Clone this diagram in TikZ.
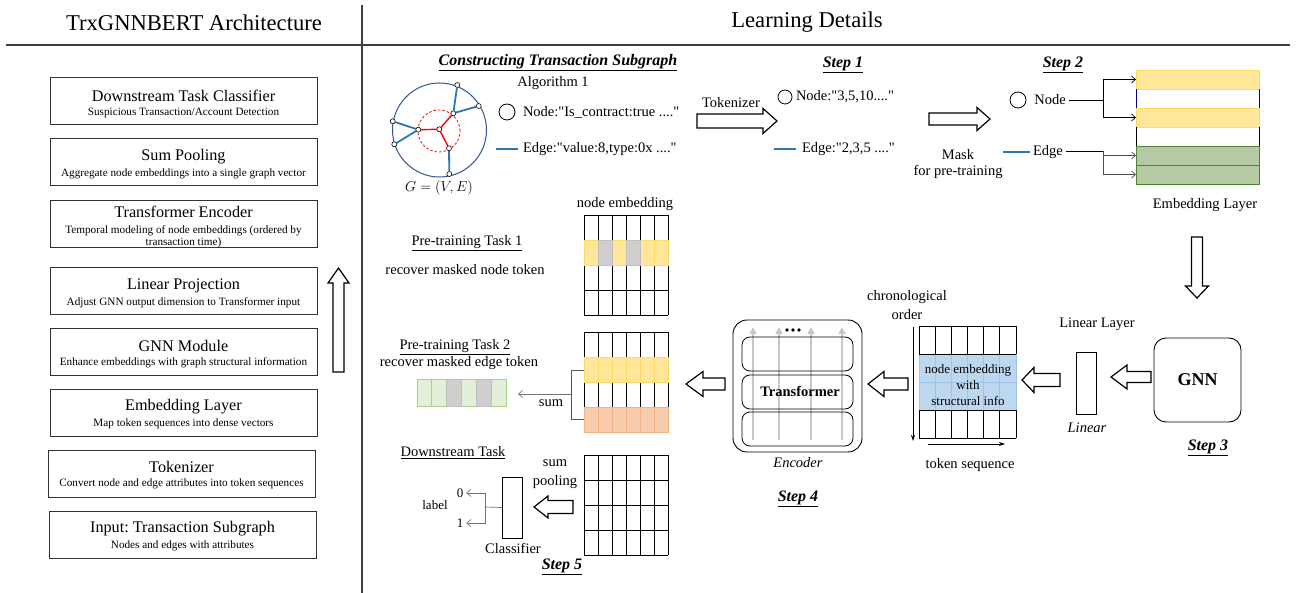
\documentclass[tikz,border=0pt]{standalone}
\usepackage{fontspec}
\setmainfont{Liberation Serif}[Ligatures=TeXOff]
\usetikzlibrary{arrows.meta}
\frenchspacing
\definecolor{eblue}{HTML}{2E75B6}
\definecolor{cblue}{HTML}{2F5597}
\definecolor{yel}{HTML}{FFE699}
\definecolor{yeld}{HTML}{FFD966}
\definecolor{gry}{HTML}{D0CECE}
\definecolor{gryd}{HTML}{BFBFBF}
\definecolor{grn}{HTML}{B5C9A5}
\definecolor{grnd}{HTML}{548235}
\definecolor{lgrn}{HTML}{E2F0D9}
\definecolor{lgrnd}{HTML}{A9D18E}
\definecolor{org}{HTML}{F8CBAD}
\definecolor{orgd}{HTML}{F4B183}
\definecolor{lblue}{HTML}{BDD7EE}
\definecolor{lblued}{HTML}{9DC3E6}
\tikzset{
  pics/barrow/.style n args={4}{code={
    \draw[line width=1.2pt, fill=white, line join=miter]
      (0,-#2) -- ({#1-#4},-#2) -- ({#1-#4},-#3) -- (#1,0) -- ({#1-#4},#3) -- ({#1-#4},#2) -- (0,#2) -- cycle;
  }},
  archbox/.style={draw=black!80, line width=0.9pt, minimum width=267pt, minimum height=47pt},
  ttl/.style={font=\fontsize{16.2}{18}\selectfont},
  sub/.style={font=\fontsize{11.2}{13}\selectfont, align=center},
  txt/.style={font=\fontsize{14.5}{16}\selectfont},
  stxt/.style={font=\fontsize{13}{15}\selectfont},
  stepst/.style={font=\fontsize{16}{18}\selectfont\bfseries\itshape},
  gnode/.style={circle, draw, fill=white, minimum size=5pt, line width=0.6pt},
  bedge/.style={eblue, line width=1.8pt},
  redge/.style={red, line width=1.4pt},
  thinarr/.style={line width=0.7pt, -{Straight Barb[length=4pt,width=7pt]}},
}
\begin{document}
\begin{tikzpicture}[x=1pt,y=-1pt, every node/.style={inner sep=0pt, outer sep=0pt}]
\useasboundingbox (0,0) rectangle (1296,593);
\fill[white] (0,0) rectangle (1296,593);

% frame lines
\draw[black!75, line width=1.2pt] (6,45) -- (1290,45);
\draw[black!75, line width=1.2pt] (362,5) -- (362,593);
\node[font=\fontsize{22.6}{24}\selectfont] (t1) at (194,23) {TrxGNNBERT Architecture};
\node[font=\fontsize{22.6}{24}\selectfont] (t2) at (807,22) {Learning Details};

% ---------- left architecture ----------
\node[archbox] (b1) at (183.5,100.5) {};
\node[ttl] (b1t) at (183.5,96) {Downstream Task Classifier};
\node[sub] (b1s) at (183.5,113) {Suspicious Transaction/Account Detection};
\node[archbox] (b2) at (183.5,161.5) {};
\node[ttl] (b2t) at (183.5,157) {Sum Pooling};
\node[sub] (b2s) at (183.5,174) {Aggregate node embeddings into a single graph vector};
\node[archbox] (b3) at (183.5,223.5) {};
\node[ttl] (b3t) at (183.5,212) {Transformer Encoder};
\node[sub] (b3s) at (183.5,236.5) {Temporal modeling of node embeddings (ordered by\\[-1pt]transaction time)};
\node[archbox] (b4) at (183.5,290.5) {};
\node[ttl] (b4t) at (183.5,286) {Linear Projection};
\node[sub] (b4s) at (183.5,303) {Adjust GNN output dimension to Transformer input};
\node[archbox] (b5) at (183.5,351.5) {};
\node[ttl] (b5t) at (183.5,345.5) {GNN Module};
\node[sub] (b5s) at (183.5,363) {Enhance embeddings with graph structural information};
\node[archbox] (b6) at (183.5,412.5) {};
\node[ttl] (b6t) at (183.5,406.5) {Embedding Layer};
\node[sub] (b6s) at (183.5,423.5) {Map token sequences into dense vectors};
\node[archbox] (b7) at (181.5,473.5) {};
\node[ttl] (b7t) at (181.5,466.5) {Tokenizer};
\node[sub] (b7s) at (181.5,483.5) {Convert node and edge attributes into token sequences};
\node[archbox] (b8) at (182.5,534.5) {};
\node[ttl] (b8t) at (182.5,529) {Input: Transaction Subgraph};
\node[sub] (b8s) at (182.5,546) {Nodes and edges with attributes};
\pic[rotate=90] at (338.5,372) {barrow={104}{5.5}{10.5}{15}};

% ---------- constructing subgraph ----------
\draw[cblue, line width=1pt] (439.5,130) circle[radius=47pt];
\draw[red, dashed, dash pattern=on 2.5pt off 2pt, line width=0.8pt] (439,131) circle[radius=21pt];
\node[gnode] (g1) at (457.3,85) {};
\node[gnode] (g2) at (478.7,106) {};
\node[gnode] (g3) at (453.3,113.3) {};
\node[gnode] (g4) at (392.7,121.3) {};
\node[gnode] (g5) at (418.3,129.7) {};
\node[gnode] (g6) at (439.3,129.3) {};
\node[gnode] (g7) at (394.3,144.3) {};
\node[gnode] (g8) at (449,148.3) {};
\node[gnode] (g9) at (449.3,174) {};
\draw[bedge] (g1) -- (g3);
\draw[bedge] (g2) -- (g3);
\draw[bedge] (g4) -- (g5);
\draw[bedge] (g7) -- (g5);
\draw[bedge] (g8) -- (g9);
\draw[redge] (g5) -- (g6);
\draw[redge] (g6) -- (g3);
\draw[redge] (g6) -- (g8);
\node[txt] (gl) at (439,188) {$G=(V,E)$};

\node[stepst] (ct) at (558,63) {\underline{Constructing Transaction Subgraph}};
\node[txt] (alg) at (553,83) {Algorithm 1};
\node[circle, draw, minimum size=16pt, line width=0.8pt] (ns1) at (507,112) {};
\node[txt, anchor=west] (nt1) at (523,112) {Node:"Is\_contract:true ...."};
\draw[eblue, line width=2pt] (496,149) -- (518,149);
\node[txt, anchor=west] (et1) at (523,149) {Edge:"value:8,type:0x ...."};

% ---------- step 1 ----------
\node[txt] (tok) at (731,103) {Tokenizer};
\pic at (697,121) {barrow={80}{7}{12.5}{14}};
\node[stepst] (st1) at (843,65) {\underline{Step 1}};
\node[circle, draw, minimum size=14pt, line width=0.8pt] (ns2) at (785,97) {};
\node[txt, anchor=west] (nt2) at (796,97) {Node:"3,5,10...."};
\draw[eblue, line width=2pt] (774,149) -- (796,149);
\node[txt, anchor=west] (et2) at (802,149) {Edge:"2,3,5 ...."};

% ---------- step 2 ----------
\pic at (929,119) {barrow={61}{6}{11.5}{13}};
\node[txt] (mask) at (958,155) {Mask};
\node[txt] (mask2) at (958,172) {for pre-training};
\node[stepst] (st2) at (1063,65) {\underline{Step 2}};
\node[circle, draw, minimum size=16pt, line width=0.8pt] (ns3) at (1018,100) {};
\node[txt] (s2node) at (1050,100) {Node};
\draw[eblue, line width=2pt] (1003,152) -- (1030,152);
\node[txt] (s2edge) at (1048,152) {Edge};

\node[draw=yeld, fill=yel, minimum width=123pt, minimum height=19pt, anchor=north west] (e1) at (1136,70) {};
\node[minimum width=123pt, minimum height=19pt, anchor=north west] (e2) at (1136,89) {};
\draw[blue!60!black, line width=0.7pt] (e2.north west) -- (e2.south west) (e2.north east) -- (e2.south east);
\node[draw=yeld, fill=yel, minimum width=123pt, minimum height=19pt, anchor=north west] (e3) at (1136,108) {};
\node[minimum width=123pt, minimum height=19pt, anchor=north west] (e4) at (1136,127) {};
\draw[black, line width=0.7pt] (e4.north west) -- (e4.south west) (e4.north east) -- (e4.south east);
\node[draw=grnd, fill=grn, minimum width=123pt, minimum height=19pt, anchor=north west, line width=0.7pt] (e5) at (1136,146) {};
\node[draw=grnd, fill=grn, minimum width=123pt, minimum height=19pt, anchor=north west, line width=0.7pt] (e6) at (1136,165) {};
\node[txt] (embl) at (1205,205) {Embedding Layer};
\coordinate (nj) at (1103,100);
\draw[line width=0.7pt, shorten <=3pt] (s2node.east) -- (nj);
\draw[thinarr] (nj) |- (e1.west);
\draw[thinarr] (nj) |- (e3.west);
\coordinate (ej) at (1103,151);
\draw[line width=0.7pt, shorten <=3pt] (s2edge.east |- ej) -- (ej);
\draw[thinarr, black!70] (ej) |- (e5.west);
\draw[thinarr, black!70] (ej) |- (e6.west);

% ---------- step 3 ----------
\pic[rotate=-90] at (1197,237) {barrow={61}{5.5}{11.5}{12}};
\node[draw, rounded corners=12pt, minimum width=87pt, minimum height=84pt, line width=0.9pt, font=\fontsize{18}{20}\selectfont\bfseries] (gnn) at (1197.5,380) {GNN};
\node[txt] (linl) at (1097,324) {Linear Layer};
\node[draw, minimum width=20pt, minimum height=62pt, line width=0.8pt] (lin) at (1086,383) {};
\node[txt, font=\fontsize{14.5}{16}\selectfont\itshape] (lint) at (1087,428) {Linear};
\node[stepst] (st3) at (1208,448) {\underline{Step 3}};
\pic[rotate=180] at (1151,377) {barrow={40}{5.5}{12}{16}};
\pic[rotate=180] at (1060,380) {barrow={38}{6.5}{12.5}{12}};

% token grid
\fill[lblue] (919,354) rectangle (1016,410);
\foreach \i in {0,...,6} {
  \draw[line width=0.8pt] ({919+\i*16.1667},326) -- ({919+\i*16.1667},354);
  \draw[line width=0.8pt] ({919+\i*16.1667},410) -- ({919+\i*16.1667},438);
  \draw[lblued, line width=0.8pt] ({919+\i*16.1667},354) -- ({919+\i*16.1667},410);
}
\draw[lblued, line width=0.8pt] (919,382) -- (1016,382);
\draw[line width=0.8pt] (919,326) -- (1016,326) (919,354) -- (1016,354) (919,410) -- (1016,410) (919,438) -- (1016,438);
\node[stxt] (tg1) at (968,370) {node embedding};
\node[stxt] (tg2) at (968,385.5) {with};
\node[stxt] (tg3) at (968,401) {structural info};
\draw[line width=0.8pt, -{Stealth[length=6pt,width=4pt]}] (913,327) -- (913,441);
\draw[line width=0.8pt, -{Stealth[length=6pt,width=4pt]}] (928,444) -- (1005,444);
\node[txt] (chr) at (907,297) {chronological};
\node[txt] (ord) at (907,315) {order};
\node[txt] (tseq) at (970,465) {token sequence};

% ---------- step 4 ----------
\foreach \x in {753,779,811,842}
  \draw[black!22, line width=2pt, -{Triangle[length=7pt,width=7pt]}] (\x,440) -- (\x,327);
\node[draw, rounded corners=14pt, minimum width=129pt, minimum height=132pt, line width=0.9pt] (enc) at (797.5,386) {};
\node[draw, rounded corners=8pt, minimum width=111pt, minimum height=34pt, line width=0.8pt] (encA) at (797.5,354) {};
\node[draw, rounded corners=8pt, minimum width=111pt, minimum height=34pt, line width=0.8pt] (encB) at (797.5,392) {};
\node[draw, rounded corners=8pt, minimum width=111pt, minimum height=34pt, line width=0.8pt] (encC) at (797.5,429) {};
\node[font=\fontsize{14.5}{16}\selectfont\bfseries] (trf) at (800,391) {Transformer};
\foreach \x in {787,793,799} \fill (\x,330) circle[radius=1.8pt];
\node[txt, font=\fontsize{14.5}{16}\selectfont\itshape] (encl) at (798,463) {Encoder};
\node[stepst] (st4) at (798,499) {\underline{Step 4}};
\pic[rotate=180] at (908,384) {barrow={40}{6}{12.5}{16}};
\pic[rotate=180] at (725,384) {barrow={39}{6}{12.5}{17}};

% ---------- pre-training grids ----------
\foreach \yy in {215,332,455} {
  \foreach \i in {0,...,6} \draw[line width=0.9pt] ({584+14*\i},\yy) -- ({584+14*\i},{\yy+100});
  \foreach \j in {0,...,4} \draw[line width=0.9pt] (584,{\yy+25*\j}) -- (668,{\yy+25*\j});
}
\foreach \i in {0,...,5} \draw[yeld, fill=yel, line width=0.8pt] ({584+14*\i},240) rectangle ++(14,25);
\draw[gryd, fill=gry, line width=0.8pt] (598,240) rectangle ++(14,25);
\draw[gryd, fill=gry, line width=0.8pt] (626,240) rectangle ++(14,25);
\foreach \i in {0,...,5} \draw[yeld, fill=yel, line width=0.8pt] ({584+14*\i},357) rectangle ++(14,25);
\foreach \i in {0,...,5} \draw[orgd, fill=org, line width=0.8pt] ({584+14*\i},407) rectangle ++(14,25);
\node[txt] (nel) at (625,204) {node embedding};
\node[txt] (pt1) at (467,243) {\underline{Pre-training Task 1}};
\node[txt] (pt1b) at (465,270) {recover masked node token};
\node[txt] (pt2) at (455,347) {\underline{Pre-training Task 2}};
\node[txt] (pt2b) at (459,363) {recover masked edge token};

% green bar
\foreach \i in {0,...,5} \draw[lgrnd, fill=lgrn, line width=0.8pt] ({417+14.833*\i},379) rectangle ++(14.833,27);
\draw[gryd, fill=gry, line width=0.8pt] ({417+14.833*2},379) rectangle ++(14.833,27);
\draw[gryd, fill=gry, line width=0.8pt] ({417+14.833*4},379) rectangle ++(14.833,27);
\node[minimum width=89pt, minimum height=27pt, anchor=north west] (gbar) at (417,379) {};
\draw[black!65, line width=0.8pt] (584,370) -- (571,370) -- (571,419) -- (584,419);
\coordinate (brm) at (571,394);
\coordinate (sumtip) at (518,394);
\draw[thinarr, black!55] (brm) -- (sumtip);
\node[txt] (suml) at (551,403) {sum};

% ---------- step 5 ----------
\node[txt] (dst) at (453,453) {\underline{Downstream Task}};
\node[txt] (sp1) at (555,463) {sum};
\node[txt] (sp2) at (555,482) {pooling};
\pic[rotate=180] at (573,507) {barrow={39}{6.5}{11}{14}};
\node[draw, minimum width=20pt, minimum height=61pt, line width=0.8pt] (cls) at (512,507.5) {};
\node[txt] (clsl) at (513,548) {Classifier};
\node[stepst] (st5) at (562,567) {\underline{Step 5}};
\node[stxt] (lab) at (435,505) {label};
\node[stxt] (l0) at (460,493) {0};
\node[stxt] (l1) at (460,523) {1};
\coordinate (cj) at (485,507);
\draw[black!55, line width=0.7pt] (cls.west) -- (cj);
\draw[thinarr, black!55, shorten >=3pt] (cj) |- (l0.east);
\draw[thinarr, black!55, shorten >=3pt] (cj) |- (l1.east);
\end{tikzpicture}
\end{document}
